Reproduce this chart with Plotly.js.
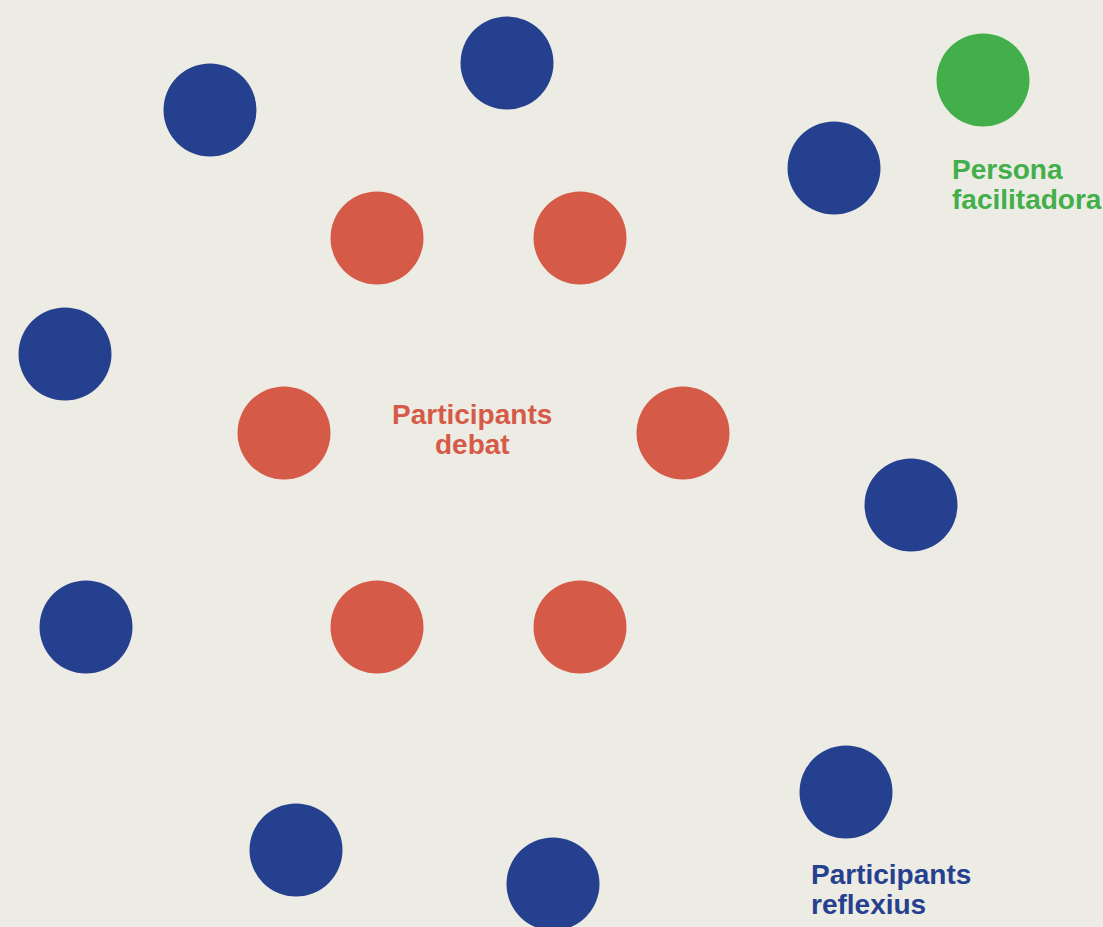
<!DOCTYPE html>
<html>
<head>
<meta charset="utf-8">
<script src="https://cdn.plot.ly/plotly-3.0.1.min.js"></script>
<style>
html,body{margin:0;padding:0;background:#EDECE4;}
#chart{width:1103px;height:927px;}
</style>
</head>
<body>
<div id="chart"></div>
<script>
// Positions of people in the room (layout units = pixels of the original diagram)
const reflexiusX = [210, 507, 834, 65, 911, 86, 296, 553, 846];
const reflexiusY = [110, 63, 168, 354, 505, 627, 850, 884, 792];
const debatX = [377, 580, 284, 683, 377, 580];
const debatY = [238, 238, 433, 433, 627, 627];
const facilitadoraX = [983];
const facilitadoraY = [80];

const labelDebat = ["Participants", "debat"];
const labelFacilitadora = ["Persona", "facilitadora"];
const labelReflexius = ["Participants", "reflexius"];

const BLUE = "#25408F", RED = "#D55A48", GREEN = "#42AF4A";
const D = 93;

function dots(x, y, color, name) {
  return {x: x, y: y, type: "scatter", mode: "markers", name: name,
    marker: {size: D, color: color, line: {width: 0}}, hoverinfo: "skip"};
}

const font = (c) => ({family: "Liberation Sans, Arial, sans-serif", size: 28, color: c});
function lines(texts, x, y0, dy, anchor, color) {
  return texts.map((t, i) => ({
    text: "<b>" + t + "</b>", x: x, y: y0 + i * dy, xref: "x", yref: "y",
    xanchor: anchor, yanchor: "middle", showarrow: false, font: font(color)
  }));
}

const annotations = []
  .concat(lines(labelDebat, 472, 414, 30, "center", RED))
  .concat(lines(labelFacilitadora, 950, 169, 30, "left", GREEN))
  .concat(lines(labelReflexius, 809, 874, 30, "left", BLUE));

const data = [
  dots(reflexiusX, reflexiusY, BLUE, "Participants reflexius"),
  dots(debatX, debatY, RED, "Participants debat"),
  dots(facilitadoraX, facilitadoraY, GREEN, "Persona facilitadora")
];

const layout = {
  width: 1103, height: 927,
  margin: {l: 0, r: 0, t: 0, b: 0, pad: 0},
  paper_bgcolor: "#EDECE4", plot_bgcolor: "#EDECE4",
  showlegend: false,
  xaxis: {range: [0, 1103], visible: false, fixedrange: true},
  yaxis: {range: [927, 0], visible: false, fixedrange: true},
  annotations: annotations
};

Plotly.newPlot("chart", data, layout, {displayModeBar: false, staticPlot: true});
</script>
</body>
</html>
